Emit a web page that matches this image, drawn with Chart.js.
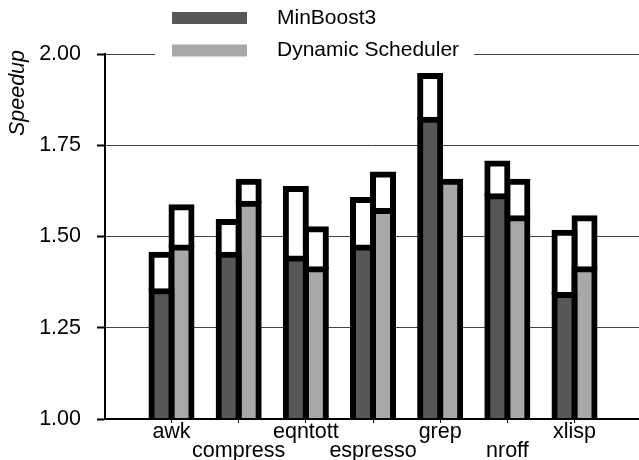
<!DOCTYPE html>
<html>
<head>
<meta charset="utf-8">
<script src="https://cdn.jsdelivr.net/npm/chart.js@4.4.1/dist/chart.umd.min.js"></script>
<style>
  html, body { margin: 0; padding: 0; background: #fff; }
  #wrap { position: relative; width: 639px; height: 460px; }
</style>
</head>
<body>
<div id="wrap"><canvas id="chart-speedup"></canvas></div>
<script>
const BENCHMARKS = ['awk', 'compress', 'eqntott', 'espresso', 'grep', 'nroff', 'xlisp'];
// speedup with the dark/light part (base) and the full outlined height (top)
const MINBOOST_BASE = [1.35, 1.45, 1.44, 1.47, 1.82, 1.61, 1.34];
const MINBOOST_TOP = [1.45, 1.54, 1.63, 1.60, 1.94, 1.70, 1.51];
const DYNAMIC_BASE = [1.47, 1.59, 1.41, 1.57, 1.65, 1.55, 1.41];
const DYNAMIC_TOP = [1.58, 1.65, 1.52, 1.67, 1.65, 1.65, 1.55];
const Y_TICKS = [1.00, 1.25, 1.50, 1.75, 2.00];

const FONT = '"Liberation Sans", Arial, Helvetica, sans-serif';
const COLORS = { minboost: '#575757', dynamic: '#a8a8a8' };

const toPoints = (values) => values.map((v, i) => ({ x: i + 1, y: v }));
const extras = (top, base) => top.map((t, i) => Number((t - base[i]).toFixed(2)));

const barStyle = {
  borderColor: '#000',
  borderWidth: 6,
  inflateAmount: 3,
  barPercentage: 1,
  categoryPercentage: 0.596,
  clip: { left: 20, right: 20, top: 80, bottom: -1 }
};

// legend sits on a white box that breaks the 2.00 grid line
const boxLegend = {
  id: 'boxLegend',
  afterDraw(chart, args, opts) {
    const { ctx } = chart;
    ctx.save();
    ctx.fillStyle = '#fff';
    ctx.fillRect(155, 0, 319, 62);
    ctx.font = `21px ${FONT}`;
    ctx.textBaseline = 'middle';
    ctx.textAlign = 'left';
    opts.items.forEach((item, i) => {
      const y = 18 + i * 32.5;
      ctx.fillStyle = item.color;
      ctx.fillRect(172, y - 6, 75, 12);
      ctx.fillStyle = '#000';
      ctx.fillText(item.label, 277, y);
    });
    ctx.restore();
  }
};

// rotated axis title near the top of the y axis
const axisTitle = {
  id: 'axisTitle',
  afterDraw(chart, args, opts) {
    const { ctx } = chart;
    ctx.save();
    ctx.translate(opts.x, opts.y);
    ctx.rotate(-Math.PI / 2);
    ctx.font = `italic 21.5px ${FONT}`;
    ctx.fillStyle = '#000';
    ctx.textAlign = 'right';
    ctx.textBaseline = 'alphabetic';
    ctx.fillText(opts.text, 0, 0);
    ctx.restore();
  }
};

new Chart(document.getElementById('chart-speedup'), {
  type: 'bar',
  data: {
    datasets: [
      { ...barStyle, label: 'MinBoost3', stack: 'mb', data: toPoints(MINBOOST_BASE),
        backgroundColor: COLORS.minboost, borderSkipped: false },
      { ...barStyle, label: 'Dynamic Scheduler', stack: 'ds', data: toPoints(DYNAMIC_BASE),
        backgroundColor: COLORS.dynamic, borderSkipped: false },
      { ...barStyle, label: 'MinBoost3 top', stack: 'mb', data: toPoints(extras(MINBOOST_TOP, MINBOOST_BASE)),
        backgroundColor: '#fff', borderSkipped: 'bottom' },
      { ...barStyle, label: 'Dynamic Scheduler top', stack: 'ds', data: toPoints(extras(DYNAMIC_TOP, DYNAMIC_BASE)),
        backgroundColor: '#fff', borderSkipped: 'bottom' }
    ]
  },
  options: {
    responsive: true,
    maintainAspectRatio: false,
    animation: false,
    layout: { padding: { top: 54, right: 0, bottom: 0, left: 0 } },
    scales: {
      x: {
        type: 'linear',
        offset: false,
        stacked: true,
        min: 0.01,
        max: 7.96,
        afterBuildTicks: (scale) => { scale.ticks = BENCHMARKS.map((_, i) => ({ value: i + 1 })); },
        afterFit: (scale) => { scale.height = 41; },
        grid: { drawOnChartArea: false, offset: false, tickLength: 4, tickColor: '#000', tickWidth: 1 },
        border: { display: true, color: '#000', width: 2 },
        ticks: {
          autoSkip: false,
          minRotation: 0,
          maxRotation: 0,
          padding: 0,
          color: '#000',
          font: { family: FONT, size: 21.5, lineHeight: 0.87 },
          callback: (value, index) => (index % 2 ? ['', BENCHMARKS[index]] : BENCHMARKS[index])
        }
      },
      y: {
        stacked: true,
        min: 1,
        max: 2,
        afterBuildTicks: (scale) => { scale.ticks = Y_TICKS.map((v) => ({ value: v })); },
        afterFit: (scale) => { scale.width = 105; },
        grid: { color: '#444', lineWidth: 1, tickColor: '#000', tickWidth: 2, tickLength: 8 },
        border: { display: true, color: '#000', width: 2 },
        ticks: {
          padding: 16,
          color: '#000',
          font: { family: FONT, size: 21.5 },
          callback: (value) => Number(value).toFixed(2)
        }
      }
    },
    plugins: {
      legend: { display: false },
      tooltip: { enabled: false },
      axisTitle: { text: 'Speedup', x: 24, y: 50 },
      boxLegend: {
        items: [
          { label: 'MinBoost3', color: COLORS.minboost },
          { label: 'Dynamic Scheduler', color: COLORS.dynamic }
        ]
      }
    }
  },
  plugins: [boxLegend, axisTitle]
});
</script>
</body>
</html>
